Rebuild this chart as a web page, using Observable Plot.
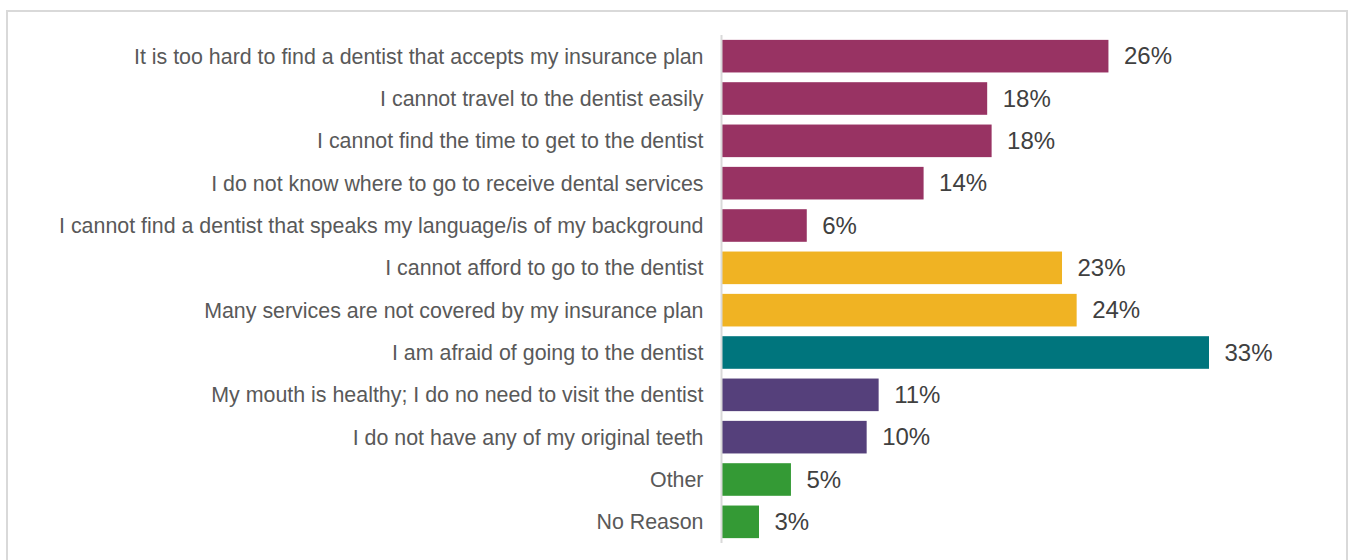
<!DOCTYPE html>
<html>
<head>
<meta charset="utf-8">
<script src="https://cdn.jsdelivr.net/npm/d3@7"></script>
<script src="https://cdn.jsdelivr.net/npm/@observablehq/plot@0.6"></script>
<style>
  html, body { margin: 0; padding: 0; background: #fff; overflow: hidden; }
  #wrap { position: relative; width: 1353px; height: 560px; }
  #frame { position: absolute; left: 6px; top: 10px; width: 1342px; height: 560px; border: 2px solid #d9d9d9; border-bottom: none; box-sizing: border-box; }
  #chart { position: absolute; left: 0; top: 0; }
</style>
</head>
<body>
<div id="wrap"><div id="frame"></div><div id="chart"></div></div>
<script>
const categories = [
  "It is too hard to find a dentist that accepts my insurance plan",
  "I cannot travel to the dentist easily",
  "I cannot find the time to get to the dentist",
  "I do not know where to go to receive dental services",
  "I cannot find a dentist that speaks my language/is of my background",
  "I cannot afford to go to the dentist",
  "Many services are not covered by my insurance plan",
  "I am afraid of going to the dentist",
  "My mouth is healthy; I do no need to visit the dentist",
  "I do not have any of my original teeth",
  "Other",
  "No Reason"
];
const values = [26.2, 18.0, 18.3, 13.7, 5.8, 23.06, 24.05, 33.0, 10.66, 9.85, 4.73, 2.57];
const valueLabels = ["26%", "18%", "18%", "14%", "6%", "23%", "24%", "33%", "11%", "10%", "5%", "3%"];
const groups = ["access", "access", "access", "access", "access", "cost", "cost", "fear", "noneed", "noneed", "other", "other"];
const groupNames = ["access", "cost", "fear", "noneed", "other"];
const groupColors = ["#983363", "#F0B323", "#00757D", "#55407B", "#349A35"];

const data = categories.map((c, i) => ({category: c, value: values[i], label: valueLabels[i], group: groups[i]}));

const chart = Plot.plot({
  width: 1353,
  height: 560,
  marginLeft: 721,
  marginRight: 144,
  marginTop: 35,
  marginBottom: 17,
  style: {fontFamily: "'Liberation Sans', Arial, sans-serif", background: "transparent"},
  x: {domain: [0, 33], axis: null},
  y: {domain: categories, paddingInner: 0.23, paddingOuter: 0.115, round: false, label: null, tickSize: 0, tickPadding: 18},
  color: {domain: groupNames, range: groupColors},
  marks: [
    Plot.barX(data, {x: "value", y: "category", fill: "group"}),
    Plot.ruleX([0], {stroke: "#d9d9d9", strokeWidth: 2}),
    Plot.axisY({tickSize: 0, tickPadding: 18, fontSize: 21.4, color: "#595959", label: null}),
    Plot.text(data, {x: "value", y: "category", text: "label", textAnchor: "start", dx: 15, fontSize: 24, fill: "#404040"})
  ]
});
document.getElementById("chart").appendChild(chart);
</script>
</body>
</html>
